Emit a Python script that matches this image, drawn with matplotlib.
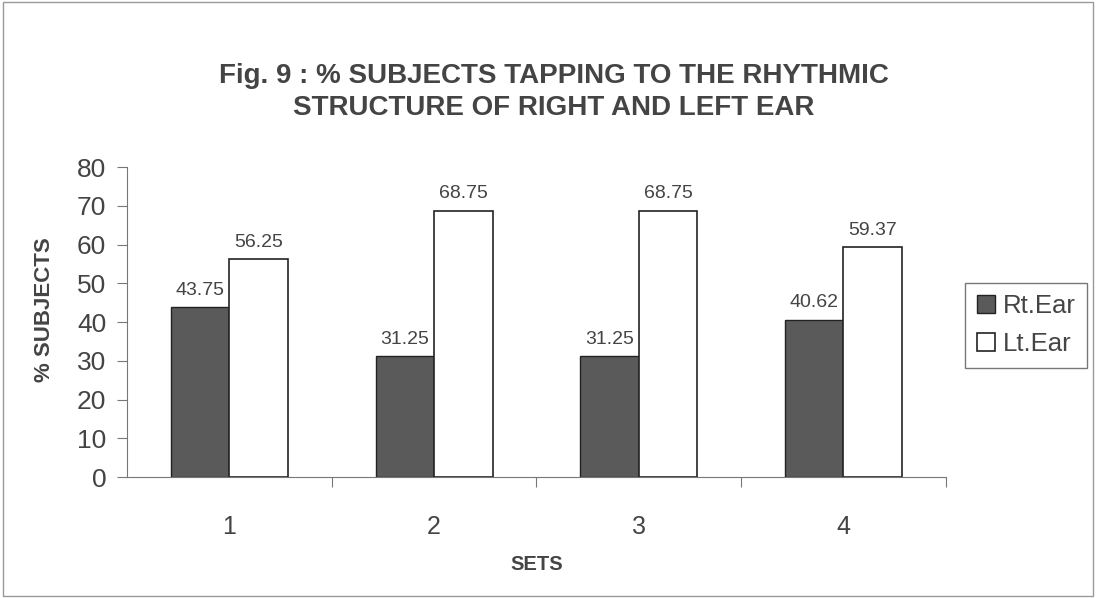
import matplotlib.pyplot as plt
from matplotlib.patches import Rectangle
import numpy as np

plt.rcParams['font.family'] = ['Liberation Sans', 'DejaVu Sans']

sets = ['1', '2', '3', '4']
rt_ear = [43.75, 31.25, 31.25, 40.62]
lt_ear = [56.25, 68.75, 68.75, 59.37]
rt_labels = ['43.75', '31.25', '31.25', '40.62']
lt_labels = ['56.25', '68.75', '68.75', '59.37']

txt = '#444444'
fig = plt.figure(figsize=(10.96, 5.98), dpi=100)
fig.patches.append(Rectangle((0.003, 0.003), 0.994, 0.994, transform=fig.transFigure,
                             fill=False, edgecolor='#999999', linewidth=1))

ax = fig.add_axes([0.1159, 0.2023, 0.863 - 0.1159, 0.7207 - 0.2023])
x = np.arange(len(sets))
w = 1 / 3.5
b1 = ax.bar(x - w / 2, rt_ear, w, color='#5a5a5a', edgecolor='#222222', linewidth=1, label='Rt.Ear')
b2 = ax.bar(x + w / 2, lt_ear, w, color='white', edgecolor='#222222', linewidth=1.2, label='Lt.Ear')

for i in range(len(sets)):
    ax.annotate(rt_labels[i], (x[i] - w / 2, rt_ear[i]), xytext=(0, 6), textcoords='offset points',
                ha='center', va='bottom', fontsize=14, color=txt)
    ax.annotate(lt_labels[i], (x[i] + w / 2, lt_ear[i]), xytext=(0, 6), textcoords='offset points',
                ha='center', va='bottom', fontsize=14, color=txt)

ax.set_xlim(-0.5, 3.5)
ax.set_ylim(0, 80)
ax.set_yticks(range(0, 81, 10))
ax.set_xticks([0.5, 1.5, 2.5, 3.5])
ax.set_xticklabels([])
ax.set_xticks(x, minor=True)
ax.set_xticklabels(sets, minor=True)
ax.tick_params(axis='x', which='major', direction='out', length=7, color='#777777')
ax.tick_params(axis='x', which='minor', length=0, pad=27, labelsize=18, labelcolor=txt)
ax.tick_params(axis='y', direction='out', length=7, color='#777777', pad=8, labelsize=19, labelcolor=txt)

for s in ['top', 'right']:
    ax.spines[s].set_visible(False)
for s in ['left', 'bottom']:
    ax.spines[s].set_color('#777777')

ax.set_xlabel('SETS', fontsize=14.5, fontweight='bold', color=txt, labelpad=12)
fig.text(0.041, 0.482, '% SUBJECTS', rotation=90, ha='center', va='center',
         fontsize=16, fontweight='bold', color=txt)

fig.text(0.505, 0.846, 'Fig. 9 : % SUBJECTS TAPPING TO THE RHYTHMIC\nSTRUCTURE OF RIGHT AND LEFT EAR',
         ha='center', va='center', fontsize=20, fontweight='bold', color=txt, linespacing=1.3)

leg = fig.legend(handles=[b1, b2], loc='center left', bbox_to_anchor=(0.869, 0.456),
                 fontsize=18.5, frameon=True, fancybox=False, edgecolor='#555555',
                 handlelength=0.7, handleheight=0.7, handletextpad=0.3, borderpad=0.45,
                 labelspacing=0.55, labelcolor=txt)
leg.get_frame().set_linewidth(1)

fig.savefig('out.png', dpi=100)
